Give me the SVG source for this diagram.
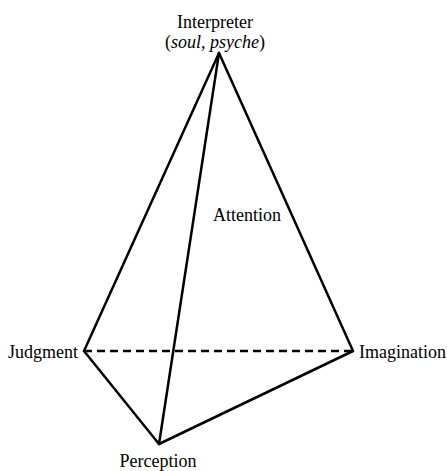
<svg xmlns="http://www.w3.org/2000/svg" width="447" height="471" viewBox="0 0 447 471">
<style>
text{font-family:"Liberation Serif","Times New Roman",serif;font-size:18px;fill:#000}
.e{stroke:#000;stroke-width:2.5;fill:none;stroke-linecap:round}
.d{stroke-dasharray:8,5;stroke-linecap:butt}
</style>
<rect width="447" height="471" fill="#fff"/>
<g id="connectors">
<line class="e" x1="219" y1="53" x2="84" y2="351"/>
<line class="e" x1="219" y1="53" x2="353" y2="351"/>
<line class="e" x1="219" y1="53" x2="159" y2="444"/>
<line class="e" x1="84" y1="351" x2="159" y2="444"/>
<line class="e" x1="353" y1="351" x2="159" y2="444"/>
<line class="e d" x1="84" y1="351" x2="353" y2="351"/>
</g>
<g id="interpreter">
<text x="215" y="28" text-anchor="middle">Interpreter</text>
<text x="215" y="48" text-anchor="middle">(<tspan font-style="italic">soul, psyche</tspan>)</text>
</g>
<g id="attention"><text x="247" y="221" text-anchor="middle">Attention</text></g>
<g id="judgment"><text x="78" y="358" text-anchor="end">Judgment</text></g>
<g id="imagination"><text x="359" y="358">Imagination</text></g>
<g id="perception"><text x="158" y="467" text-anchor="middle">Perception</text></g>
</svg>
